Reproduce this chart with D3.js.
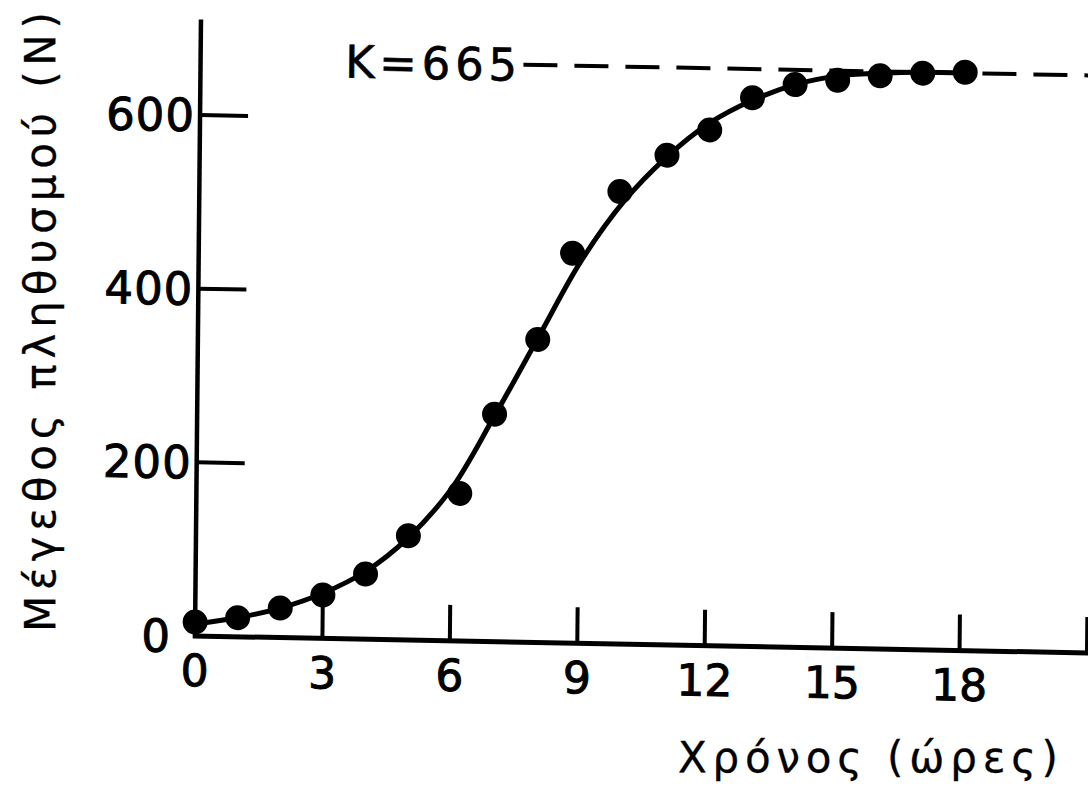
<!DOCTYPE html>
<html>
<head>
<meta charset="utf-8">
<script src="https://cdn.jsdelivr.net/npm/d3@7"></script>
<style>
body { margin: 0; background: #fff; }
text { font-family: "DejaVu Sans", "Liberation Sans", Arial, sans-serif; fill: #000; }
</style>
</head>
<body>
<script>
// data
var hours  = [0, 1, 2, 3, 4, 5, 6.2, 7, 8, 8.8, 9.9, 11, 12, 13, 14, 15, 16, 17, 18];
var counts = [16, 22, 34, 50, 75, 120, 170, 262, 349, 449, 521, 564, 594, 632, 648, 654, 660, 664, 666];

// the drawn smooth curve, read at whole hours
var curveHours  = [0, 1, 2, 3, 4, 5, 6, 7, 8, 9, 10, 11, 12, 13, 14, 15, 16, 17, 18];
var curveValues = [14, 22, 34, 52, 78, 118, 175, 260, 350, 440, 510, 562, 602, 629, 648, 659, 663, 665, 665];

var xTicks = [0, 3, 6, 9, 12, 15, 18, 21];
var xTickLabels = ["0", "3", "6", "9", "12", "15", "18", ""];
var yTicks = [0, 200, 400, 600];
var yTickLabels = ["0", "200", "400", "600"];
var K = 665;
var kLabel = "K=665";
var xTitle = "Χρόνος (ώρες)";
var yTitle = "Μέγεθος πληθυσμού (Ν)";

var width = 1088;
var height = 788;

var svg = d3.select("body").append("svg")
  .attr("width", width)
  .attr("height", height)
  .style("background", "#fff");

var x = d3.scaleLinear().domain([0, 21]).range([195, 1087]);
var y = d3.scaleLinear().domain([0, 600]).range([636, 115]);

var ox = x(0), oy = y(0);

// the scanned figure is slightly skewed, shear the plot around its origin
var plot = svg.append("g")
  .attr("transform", "translate(" + ox + "," + oy + ") matrix(1,0.019,-0.0097,1,0,0) translate(" + (-ox) + "," + (-oy) + ")");

// axes
plot.append("line")
  .attr("x1", x(0)).attr("x2", x(0))
  .attr("y1", y(0) + 2).attr("y2", y(710))
  .attr("stroke", "#000").attr("stroke-width", 4.5);

plot.append("line")
  .attr("x1", x(-0.05)).attr("x2", x(22))
  .attr("y1", y(0)).attr("y2", y(0))
  .attr("stroke", "#000").attr("stroke-width", 5);

// y ticks point into the plot
plot.selectAll(".ytick")
  .data(yTicks.filter(function(d) { return d > 0; }))
  .enter().append("line")
    .attr("class", "ytick")
    .attr("x1", x(0)).attr("x2", x(0) + 48)
    .attr("y1", function(d) { return y(d); })
    .attr("y2", function(d) { return y(d); })
    .attr("stroke", "#000").attr("stroke-width", 4);

plot.selectAll(".ylab")
  .data(yTicks)
  .enter().append("text")
    .attr("class", "ylab")
    .attr("x", function(d) { return d == 0 ? x(0) - 24 : x(0) - 5; })
    .attr("y", function(d) { return y(d); })
    .attr("dy", "0.36em")
    .attr("text-anchor", "end")
    .style("font-size", "45px")
    .style("letter-spacing", "1px")
    .style("stroke", "#000").style("stroke-width", 1)
    .text(function(d, i) { return yTickLabels[i]; });

// x ticks point up
plot.selectAll(".xtick")
  .data(xTicks.filter(function(d) { return d > 0; }))
  .enter().append("line")
    .attr("class", "xtick")
    .attr("x1", function(d) { return x(d); })
    .attr("x2", function(d) { return x(d); })
    .attr("y1", y(0)).attr("y2", y(0) - 36)
    .attr("stroke", "#000").attr("stroke-width", 4);

plot.selectAll(".xlab")
  .data(xTicks)
  .enter().append("text")
    .attr("class", "xlab")
    .attr("x", function(d) { return x(d); })
    .attr("y", y(0) + 50)
    .attr("text-anchor", "middle")
    .style("font-size", "44px")
    .style("stroke", "#000").style("stroke-width", 1)
    .text(function(d, i) { return xTickLabels[i]; });

// carrying capacity
plot.append("line")
  .attr("x1", x(7.6)).attr("x2", x(22))
  .attr("y1", y(K)).attr("y2", y(K))
  .attr("stroke", "#000").attr("stroke-width", 4)
  .attr("stroke-dasharray", "34,17");

plot.append("text")
  .attr("x", x(7.45))
  .attr("y", y(K))
  .attr("dy", "0.36em")
  .attr("text-anchor", "end")
  .attr("textLength", 172)
  .attr("lengthAdjust", "spacing")
  .style("font-size", "45px")
  .style("stroke", "#000").style("stroke-width", 0.6)
  .text(kLabel);

// fitted curve
var line = d3.line()
  .x(function(d, i) { return x(curveHours[i]); })
  .y(function(d) { return y(d); })
  .curve(d3.curveCatmullRom);

plot.append("path")
  .datum(curveValues)
  .attr("d", line)
  .attr("fill", "none")
  .attr("stroke", "#000")
  .attr("stroke-width", 5);

// observed points
plot.selectAll(".dot")
  .data(counts)
  .enter().append("circle")
    .attr("class", "dot")
    .attr("cx", function(d, i) { return x(hours[i]); })
    .attr("cy", function(d) { return y(d); })
    .attr("r", 12.5)
    .attr("fill", "#000");

// axis titles
svg.append("text")
  .attr("transform", "translate(55,322) rotate(-90)")
  .attr("text-anchor", "middle")
  .attr("textLength", 620)
  .attr("lengthAdjust", "spacing")
  .style("font-size", "42px")
  .style("stroke", "#000").style("stroke-width", 0.3)
  .text(yTitle);

svg.append("text")
  .attr("x", 678)
  .attr("y", 772)
  .attr("textLength", 380)
  .attr("lengthAdjust", "spacing")
  .style("font-size", "42px")
  .style("stroke", "#000").style("stroke-width", 0.3)
  .text(xTitle);
</script>
</body>
</html>
